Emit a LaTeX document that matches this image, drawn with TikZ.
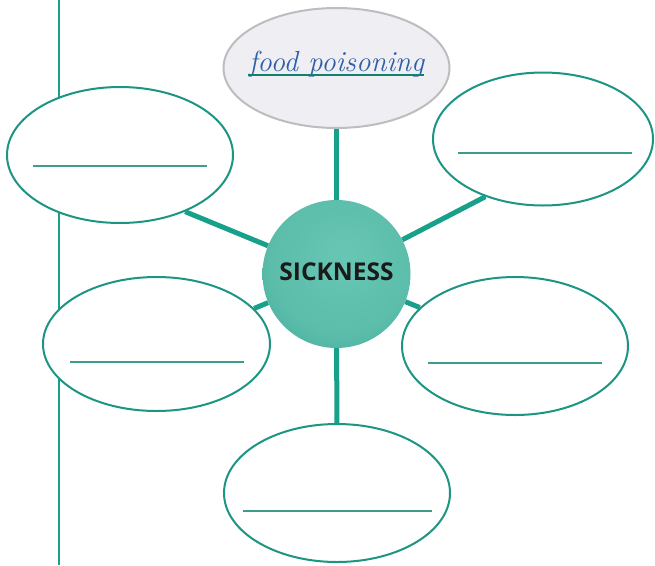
\documentclass[tikz,border=0pt]{standalone}
\usepackage{fontspec}
\newfontfamily\sickfont{Open Sans}
\usetikzlibrary{shapes.geometric}
\definecolor{tealline}{HTML}{17A08A}
\definecolor{tealring}{HTML}{1C9682}
\definecolor{blankcol}{HTML}{3D9C8C}
\definecolor{grayfill}{HTML}{EFEFF3}
\definecolor{graydraw}{HTML}{BDBDC0}
\definecolor{foodblue}{HTML}{2F5FA8}
\definecolor{sickA}{HTML}{68C6B4}
\definecolor{sickB}{HTML}{5CBDAB}
\definecolor{sickC}{HTML}{4AAE9C}
\definecolor{sickD}{HTML}{2A917F}
\definecolor{sickE}{HTML}{1D7667}
\definecolor{sicktext}{HTML}{1A1A1A}
\pgfdeclareradialshading{sickshade}{\pgfpoint{3bp}{6bp}}{color(0bp)=(sickA); color(24bp)=(sickB); color(34bp)=(sickC); color(42bp)=(sickD); color(50bp)=(sickE); color(70bp)=(sickE)}
\tikzset{
  bubble/.style={ellipse, draw=tealring, line width=2pt, fill=white, inner sep=0pt},
  topbub/.style={ellipse, draw=graydraw, line width=2pt, fill=grayfill, inner sep=0pt,
    minimum width=226pt, minimum height=120pt},
  sick/.style={circle, minimum size=148pt, inner sep=0pt, shading=sickshade},
  conn/.style={draw=tealline, line width=5pt},
  vline/.style={draw=tealline, line width=2pt},
  blank/.style={draw=blankcol, line width=2pt},
  uline/.style={draw=tealline!80!black, line width=1.5pt}
}
\begin{document}
\begin{tikzpicture}[x=1pt,y=-1pt]
\useasboundingbox (0,0) rectangle (655,565);
\coordinate (vt) at (58.5,0);
\coordinate (vb) at (58.5,565);
\draw[vline] (vt) -- (vb);
\node[bubble, minimum width=226pt, minimum height=136pt] (lt) at (120,155) {};
\node[bubble, minimum width=220pt, minimum height=133pt] (rt) at (543,139) {};
\node[bubble, minimum width=227pt, minimum height=134pt] (ml) at (156.5,344) {};
\node[bubble, minimum width=226pt, minimum height=138pt] (mr) at (515,346) {};
\node[bubble, minimum width=226pt, minimum height=138pt] (bt) at (337,493) {};
\node[topbub] (food) at (336.5,68)
  {\makebox[0pt]{\smash{\raisebox{-3pt}{\color{foodblue}\itshape\fontsize{29}{29}\selectfont food poisoning}}}};
\node[sick] (c) at (336.5,274)
  {\makebox[0pt]{\smash{\raisebox{-6pt}{\color{sicktext}\sickfont\bfseries\fontsize{24.5}{24.5}\selectfont SICKNESS}}}};
\draw[uline] ([shift={(-89,7)}]food.center) -- ([shift={(87,7)}]food.center);
\draw[blank] ([shift={(-87,11)}]lt.center) -- ([shift={(87,11)}]lt.center);
\draw[blank] ([shift={(-85,14)}]rt.center) -- ([shift={(89,14)}]rt.center);
\draw[blank] ([shift={(-87,18)}]ml.center) -- ([shift={(87,18)}]ml.center);
\draw[blank] ([shift={(-87,17)}]mr.center) -- ([shift={(87,17)}]mr.center);
\draw[blank] ([shift={(-94,18)}]bt.center) -- ([shift={(95,18)}]bt.center);
\draw[conn] (c) -- (food);
\draw[conn] (c) -- (bt);
\draw[conn] (c) -- (lt.-41.6);
\draw[conn] (c) -- (rt.-135);
\draw[conn] (c) -- (ml.20.7);
\draw[conn] (c) -- (mr.158.8);
\end{tikzpicture}
\end{document}
